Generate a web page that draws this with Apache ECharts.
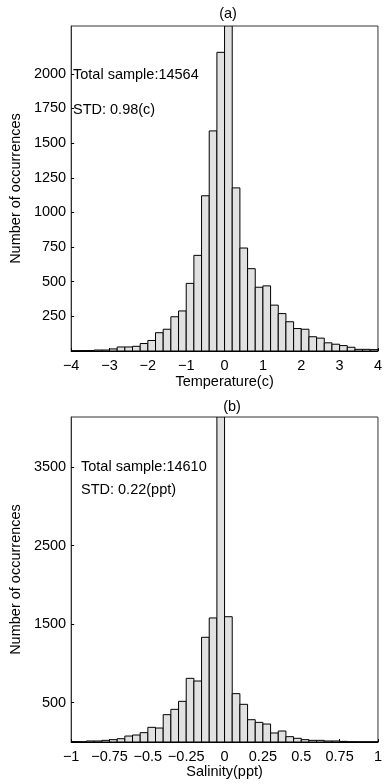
<!DOCTYPE html>
<html>
<head>
<meta charset="utf-8">
<script src="https://cdn.jsdelivr.net/npm/echarts@6/dist/echarts.min.js"></script>
<style>
html,body{margin:0;padding:0;background:#fff;}
#chart{width:385px;height:784px;}
</style>
</head>
<body>
<div id="chart"></div>
<script>
// ---- Data ----
const tempRange = [-4, 4];
const tempCounts = [2, 3, 3, 7, 7, 15, 29, 29, 34, 54, 76, 132, 157, 247, 289, 488, 690, 1120, 1588, 2155,
  2345, 1177, 743, 594, 460, 470, 331, 270, 211, 162, 157, 103, 93, 59, 49, 39, 27, 12, 12, 10];
const tempXTicks = [-4, -3, -2, -1, 0, 1, 2, 3, 4];
const tempYTicks = [250, 500, 750, 1000, 1250, 1500, 1750, 2000];
const tempYMax = 2345;

const salRange = [-1, 1];
const salCounts = [5, 3, 13, 13, 21, 30, 42, 76, 89, 119, 187, 178, 348, 416, 518, 811, 777, 1334, 1580, 4140,
  1596, 616, 480, 284, 250, 229, 115, 140, 68, 47, 30, 21, 21, 13, 13, 8, 3, 2, 1, 1];
const salXTicks = [-1, -0.75, -0.5, -0.25, 0, 0.25, 0.5, 0.75, 1];
const salYTicks = [500, 1500, 2500, 3500];
const salYMax = 4140;

const titles = ['(a)', '(b)'];
const xNames = ['Temperature(c)', 'Salinity(ppt)'];
const yName = 'Number of occurrences';
const notes = [['Total sample:14564', 'STD: 0.98(c)'], ['Total sample:14610', 'STD: 0.22(ppt)']];

// ---- Build ----
function binData(range, counts) {
  const w = (range[1] - range[0]) / counts.length;
  return counts.map((c, i) => [range[0] + i * w, range[0] + (i + 1) * w, c]);
}
const FONT = '"Liberation Sans", Arial, Helvetica, sans-serif';
const FS = 14.5;
const fmtNum = v => (v < 0 ? '\u2212' + String(Math.abs(v)) : String(v));

function renderBar(params, api) {
  const p0 = api.coord([api.value(0), api.value(2)]);
  const p1 = api.coord([api.value(1), 0]);
  return {
    type: 'rect',
    shape: { x: p0[0], y: p0[1], width: p1[0] - p0[0], height: p1[1] - p0[1] },
    style: { fill: '#e1e1e1', stroke: '#000', lineWidth: 1 }
  };
}

function xAxis(idx, range, interval, ticks) {
  return {
    type: 'value', gridIndex: idx, min: range[0], max: range[1], interval: interval,
    name: xNames[idx], nameLocation: 'middle', nameGap: idx === 0 ? 23 : 21,
    nameTextStyle: { fontFamily: FONT, fontSize: FS, color: '#000' },
    axisLine: { show: true, onZero: false, lineStyle: { color: '#000', width: 1 } },
    axisTick: { show: true, inside: true, length: 3, lineStyle: { color: '#000' }, customValues: ticks },
    axisLabel: { show: true, margin: 7, fontFamily: FONT, fontSize: FS, color: '#000', formatter: fmtNum,
      customValues: ticks },
    splitLine: { show: false }
  };
}
function yAxis(idx, max, ticks) {
  return {
    type: 'value', gridIndex: idx, min: 0, max: max,
    name: yName, nameLocation: 'middle', nameGap: 36, nameRotate: 90,
    nameTextStyle: { fontFamily: FONT, fontSize: FS, color: '#000' },
    axisLine: { show: true, onZero: false, lineStyle: { color: '#333', width: 1 } },
    axisTick: { show: true, inside: true, length: 3, lineStyle: { color: '#000' }, customValues: ticks },
    axisLabel: { show: true, margin: 5, fontFamily: FONT, fontSize: FS, color: '#000',
      formatter: v => String(v), customValues: ticks },
    splitLine: { show: false }
  };
}

const option = {
  animation: false,
  backgroundColor: '#fff',
  grid: [
    { left: 65, right: 3, top: 26, height: 325, show: true, borderColor: '#333', borderWidth: 1, backgroundColor: 'transparent' },
    { left: 65, right: 3, top: 417, height: 325, show: true, borderColor: '#333', borderWidth: 1, backgroundColor: 'transparent' }
  ],
  xAxis: [xAxis(0, tempRange, 1, tempXTicks), xAxis(1, salRange, 0.25, salXTicks)],
  yAxis: [yAxis(0, tempYMax, tempYTicks), yAxis(1, salYMax, salYTicks)],
  series: [
    { type: 'custom', xAxisIndex: 0, yAxisIndex: 0, clip: true, renderItem: renderBar,
      encode: { x: [0, 1], y: 2 }, data: binData(tempRange, tempCounts) },
    { type: 'custom', xAxisIndex: 1, yAxisIndex: 1, clip: true, renderItem: renderBar,
      encode: { x: [0, 1], y: 2 }, data: binData(salRange, salCounts) }
  ],
  graphic: [
    { type: 'text', x: 228, y: 14, style: { text: titles[0], font: FS + 'px ' + FONT, fill: '#000', align: 'center', verticalAlign: 'middle' } },
    { type: 'text', x: 232, y: 407, style: { text: titles[1], font: FS + 'px ' + FONT, fill: '#000', align: 'center', verticalAlign: 'middle' } },
    { type: 'text', x: 73, y: 75, style: { text: notes[0][0], font: FS + 'px ' + FONT, fill: '#000', align: 'left', verticalAlign: 'middle' } },
    { type: 'text', x: 73, y: 110, style: { text: notes[0][1], font: FS + 'px ' + FONT, fill: '#000', align: 'left', verticalAlign: 'middle' } },
    { type: 'text', x: 81, y: 467, style: { text: notes[1][0], font: FS + 'px ' + FONT, fill: '#000', align: 'left', verticalAlign: 'middle' } },
    { type: 'text', x: 81, y: 490, style: { text: notes[1][1], font: FS + 'px ' + FONT, fill: '#000', align: 'left', verticalAlign: 'middle' } }
  ]
};

const chart = echarts.init(document.getElementById('chart'), null, { renderer: 'canvas' });
chart.setOption(option);
</script>
</body>
</html>
